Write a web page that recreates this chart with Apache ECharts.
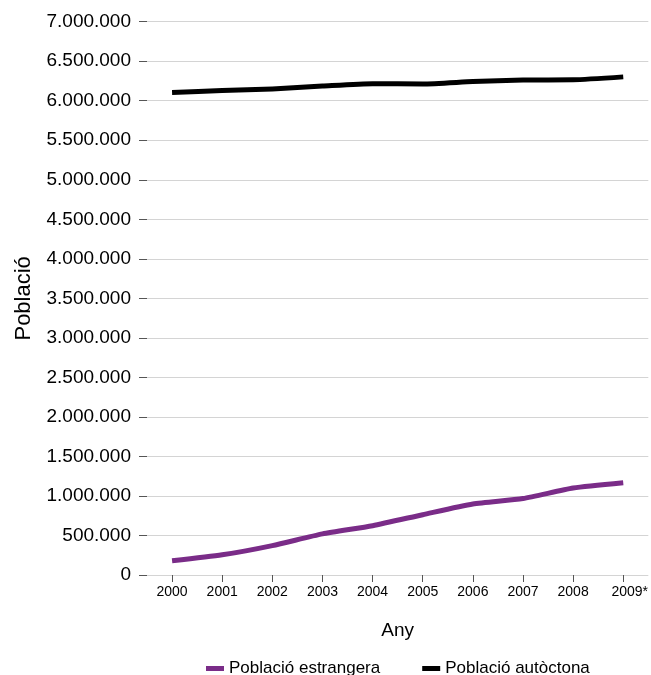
<!DOCTYPE html>
<html>
<head>
<meta charset="utf-8">
<script src="https://cdn.jsdelivr.net/npm/echarts@6/dist/echarts.min.js"></script>
<style>
html,body{margin:0;padding:0;background:#fff;}
#chart{width:651px;height:675px;}
</style>
</head>
<body>
<div id="chart"></div>
<script>
var years = ['2000','2001','2002','2003','2004','2005','2006','2007','2008','2009*'];
var estrangera = [179000, 255000, 372000, 520000, 624000, 763000, 898000, 968000, 1100000, 1167000];
var autoctona = [6105000, 6130000, 6150000, 6185000, 6215000, 6212000, 6243000, 6263000, 6265000, 6302000];
var seriesNames = ['Població estrangera', 'Població autòctona'];
var yAxisName = 'Població';
var xAxisName = 'Any';

var FONT = '"Liberation Sans", Arial, Helvetica, sans-serif';
function fmt(v){
  return String(v).replace(/\B(?=(\d{3})+(?!\d))/g, '.');
}
var chart = echarts.init(document.getElementById('chart'), null, {renderer:'canvas'});
chart.setOption({
  animation:false,
  backgroundColor:'#ffffff',
  textStyle:{fontFamily:FONT},
  grid:{left:147, right:2, top:21.7, bottom:100},
  legend:{
    left:201, top:655, itemGap:42, itemWidth:18, itemHeight:5,
    textStyle:{fontSize:17, color:'#000', fontFamily:FONT},
    data:[{name:seriesNames[0], icon:'rect'},{name:seriesNames[1], icon:'rect'}]
  },
  xAxis:{
    type:'category', data:years, boundaryGap:true,
    name:xAxisName, nameLocation:'middle', nameGap:46,
    nameTextStyle:{fontSize:19, color:'#000', fontFamily:FONT},
    axisLine:{show:false},
    axisTick:{show:true, alignWithLabel:true, interval:0, length:7, lineStyle:{color:'#555', width:1}},
    axisLabel:{
      interval:0,
      fontSize:14, color:'#000', margin:10, fontFamily:FONT,
      formatter:function(v){ return v.indexOf('*')>=0 ? '{s|'+v+'}' : v; },
      rich:{s:{fontSize:14, color:'#000', fontFamily:FONT, padding:[0,0,0,13]}}
    },
    splitLine:{show:false}
  },
  yAxis:{
    type:'value', min:0, max:7000000, interval:500000,
    name:yAxisName, nameLocation:'middle', nameGap:112,
    nameTextStyle:{fontSize:22, color:'#000', fontFamily:FONT},
    axisLine:{show:false},
    axisTick:{show:true, length:8, lineStyle:{color:'#555', width:1}},
    axisLabel:{fontSize:19, color:'#000', margin:16, fontFamily:FONT, formatter:fmt},
    splitLine:{show:true, lineStyle:{color:'#d4d4d4', width:1}}
  },
  series:[
    {name:seriesNames[0], type:'line', data:estrangera, smooth:0.2, showSymbol:false,
     lineStyle:{color:'#7a2c88', width:5, cap:'butt', join:'round'}, itemStyle:{color:'#7a2c88'}},
    {name:seriesNames[1], type:'line', data:autoctona, smooth:0.2, showSymbol:false,
     lineStyle:{color:'#000000', width:5, cap:'butt', join:'round'}, itemStyle:{color:'#000000'}}
  ]
});
</script>
</body>
</html>
